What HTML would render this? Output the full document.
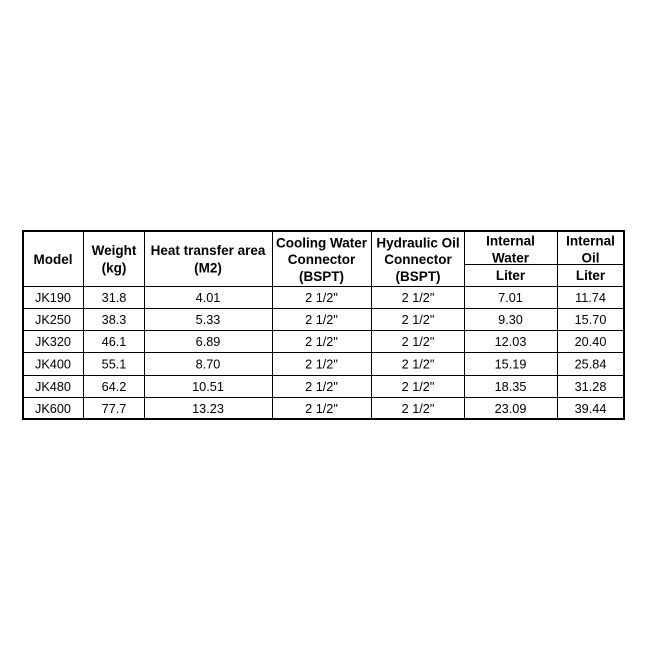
<!DOCTYPE html>
<html><head><meta charset="utf-8"><style>
html,body{margin:0;padding:0;background:#fff;width:650px;height:650px;overflow:hidden}
svg{display:block}
text{font-family:"Liberation Sans",Arial,sans-serif;fill:#000;text-anchor:middle}
.b{font-weight:bold;font-size:13.5px}
.r{font-size:12.7px}
</style></head><body>
<svg width="650" height="650" viewBox="0 0 650 650" xmlns="http://www.w3.org/2000/svg">
<rect x="0" y="0" width="650" height="650" fill="#fff"/>
<!-- inner vertical lines -->
<g fill="#000">
<rect x="83" y="231" width="1" height="188"/>
<rect x="144" y="231" width="1" height="188"/>
<rect x="272" y="231" width="1" height="188"/>
<rect x="371" y="231" width="1" height="188"/>
<rect x="464" y="231" width="1" height="188"/>
<rect x="557" y="231" width="1" height="188"/>
<!-- horizontal -->
<rect x="464" y="264" width="160" height="1"/>
<rect x="23" y="286" width="601" height="1"/>
<rect x="23" y="308" width="601" height="1"/>
<rect x="23" y="330" width="601" height="1"/>
<rect x="23" y="352" width="601" height="1"/>
<rect x="23" y="375" width="601" height="1"/>
<rect x="23" y="397" width="601" height="1"/>
</g>
<rect x="23" y="231" width="601" height="188" fill="none" stroke="#000" stroke-width="2"/>

<!-- header -->
<text class="b" x="53" y="264">Model</text>
<text class="b" x="114" y="255">Weight</text>
<text class="b" x="114" y="272.5">(kg)</text>
<text class="b" x="208" y="255">Heat transfer area</text>
<text class="b" x="208" y="272.5">(M2)</text>
<text class="b" x="321.5" y="247.5">Cooling Water</text>
<text class="b" x="321.5" y="264.2">Connector</text>
<text class="b" x="321.5" y="281">(BSPT)</text>
<text class="b" x="418" y="247.5">Hydraulic Oil</text>
<text class="b" x="418" y="264.2">Connector</text>
<text class="b" x="418" y="281">(BSPT)</text>
<text class="b" x="510.5" y="245.5">Internal</text>
<text class="b" x="510.5" y="262.3">Water</text>
<text class="b" x="510.5" y="280">Liter</text>
<text class="b" x="590.5" y="245.5">Internal</text>
<text class="b" x="590.5" y="262.3">Oil</text>
<text class="b" x="590.5" y="280">Liter</text>

<!-- rows -->
<g class="r">
<text class="r" x="53" y="302">JK190</text><text class="r" x="114" y="302">31.8</text><text class="r" x="208" y="302">4.01</text><text class="r" x="321.5" y="302">2 1/2"</text><text class="r" x="418" y="302">2 1/2"</text><text class="r" x="510.5" y="302">7.01</text><text class="r" x="590.5" y="302">11.74</text>
<text class="r" x="53" y="324">JK250</text><text class="r" x="114" y="324">38.3</text><text class="r" x="208" y="324">5.33</text><text class="r" x="321.5" y="324">2 1/2"</text><text class="r" x="418" y="324">2 1/2"</text><text class="r" x="510.5" y="324">9.30</text><text class="r" x="590.5" y="324">15.70</text>
<text class="r" x="53" y="346">JK320</text><text class="r" x="114" y="346">46.1</text><text class="r" x="208" y="346">6.89</text><text class="r" x="321.5" y="346">2 1/2"</text><text class="r" x="418" y="346">2 1/2"</text><text class="r" x="510.5" y="346">12.03</text><text class="r" x="590.5" y="346">20.40</text>
<text class="r" x="53" y="368.5">JK400</text><text class="r" x="114" y="368.5">55.1</text><text class="r" x="208" y="368.5">8.70</text><text class="r" x="321.5" y="368.5">2 1/2"</text><text class="r" x="418" y="368.5">2 1/2"</text><text class="r" x="510.5" y="368.5">15.19</text><text class="r" x="590.5" y="368.5">25.84</text>
<text class="r" x="53" y="391">JK480</text><text class="r" x="114" y="391">64.2</text><text class="r" x="208" y="391">10.51</text><text class="r" x="321.5" y="391">2 1/2"</text><text class="r" x="418" y="391">2 1/2"</text><text class="r" x="510.5" y="391">18.35</text><text class="r" x="590.5" y="391">31.28</text>
<text class="r" x="53" y="413">JK600</text><text class="r" x="114" y="413">77.7</text><text class="r" x="208" y="413">13.23</text><text class="r" x="321.5" y="413">2 1/2"</text><text class="r" x="418" y="413">2 1/2"</text><text class="r" x="510.5" y="413">23.09</text><text class="r" x="590.5" y="413">39.44</text>
</g>
</svg>
</body></html>
